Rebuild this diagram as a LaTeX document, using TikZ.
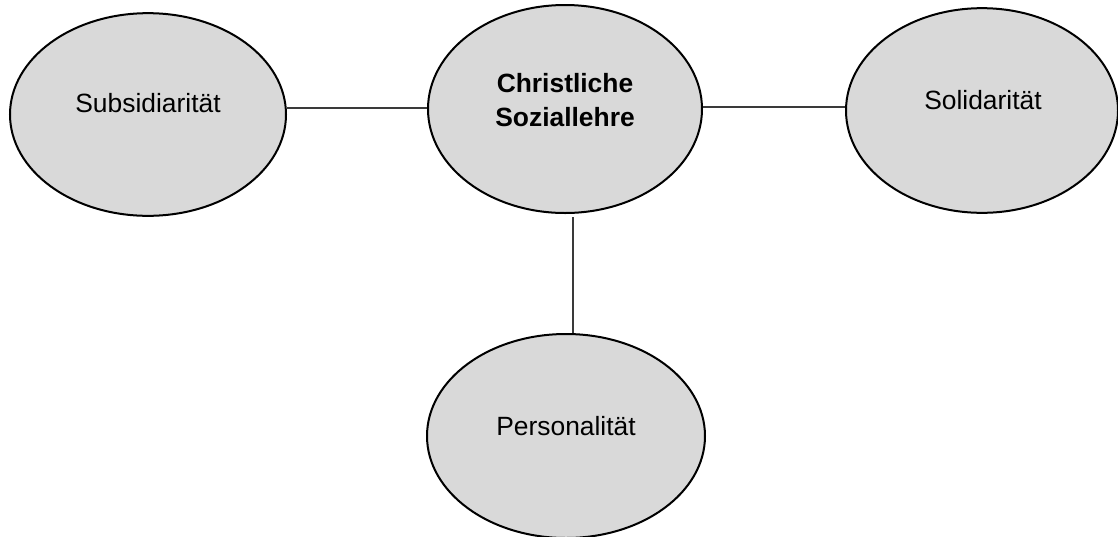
\documentclass[tikz,border=0pt]{standalone}
\usepackage{fontspec}
\setmainfont{Liberation Sans}
\usetikzlibrary{shapes.geometric,calc}
\definecolor{ellfill}{HTML}{D9D9D9}
\definecolor{linegray}{HTML}{3A3A3A}
\tikzset{
  ell/.style={ellipse, draw=black, line width=1.5pt, fill=ellfill, inner sep=0pt},
  lbl/.style={font=\fontsize{19.8}{25.5}\selectfont, align=center, inner sep=0pt},
  conn/.style={draw=linegray, line width=0.9pt}
}
\begin{document}
\begin{tikzpicture}[x=0.75pt,y=-0.75pt]
\useasboundingbox (0,0) rectangle (1118,536);
\node[ell, minimum width=207pt, minimum height=152pt] (sub) at (148,114.5) {};
\node[ell, minimum width=205.5pt, minimum height=156pt] (soz) at (565,109) {};
\node[ell, minimum width=204pt, minimum height=153.5pt] (sol) at (982,110.5) {};
\node[ell, minimum width=208.5pt, minimum height=153pt] (per) at (566,436) {};
\node[lbl] (tsub) at (148,103) {Subsidiarität};
\node[lbl, font=\fontsize{19.8}{25.5}\selectfont\bfseries] (tsoz) at (565,100) {Christliche\\Soziallehre};
\node[lbl] (tsol) at (983,100) {Solidarität};
\node[lbl] (tper) at (566,426) {Personalität};
\draw[conn] (soz.west) ++(0,-1) coordinate (lw) (lw) -- (lw -| sub.east);
\draw[conn] (soz.east) ++(0,-2) coordinate (rw) (rw) -- (rw -| sol.west);
\coordinate (vtop) at (573,217);
\draw[conn] (vtop) -- (vtop |- per.north);
\end{tikzpicture}
\end{document}
